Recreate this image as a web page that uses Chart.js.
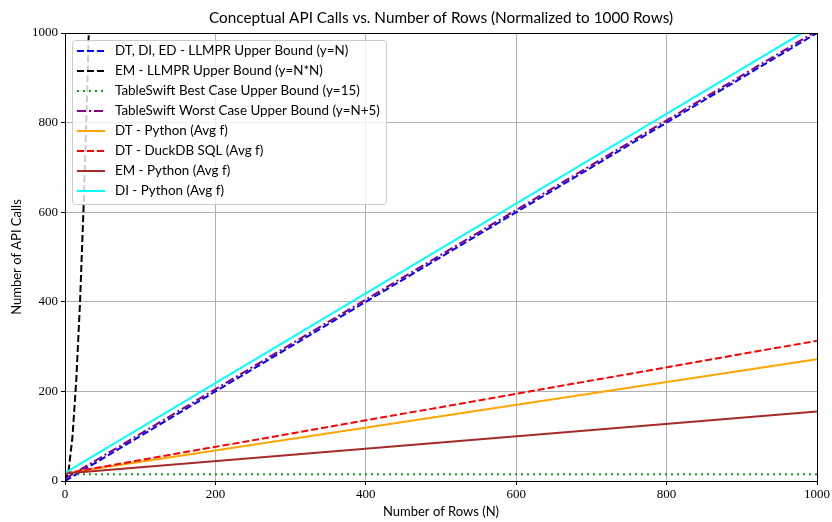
<!DOCTYPE html>
<html><head><meta charset="utf-8">
<script src="https://cdn.jsdelivr.net/npm/chart.js@4"></script>
<style>html,body{margin:0;padding:0;background:#fff}#wrap{width:832px;height:522px;position:relative}</style>
</head><body><div id="wrap"><canvas id="c" width="832" height="522"></canvas></div>
<script>
// ---- data ----
const titleText = "Conceptual API Calls vs. Number of Rows (Normalized to 1000 Rows)";
const xLabel = "Number of Rows (N)";
const yLabel = "Number of API Calls";
const xTicks = [0, 200, 400, 600, 800, 1000];
const yTicks = [0, 200, 400, 600, 800, 1000];

const seriesNames = [
  "DT, DI, ED - LLMPR Upper Bound (y=N)",
  "EM - LLMPR Upper Bound (y=N*N)",
  "TableSwift Best Case Upper Bound (y=15)",
  "TableSwift Worst Case Upper Bound (y=N+5)",
  "DT - Python (Avg f)",
  "DT - DuckDB SQL (Avg f)",
  "EM - Python (Avg f)",
  "DI - Python (Avg f)"
];
const rowsLinear = [0, 1000];
const llmprN = [0, 1000];
const rowsSquare = [0, 5, 10, 15, 20, 25, 30, 32];
const llmprNN = [0, 25, 100, 225, 400, 625, 900, 1024];
const tsBest = [15, 15];
const tsWorst = [5, 1005];
const dtPython = [17, 272];
const dtDuck = [17, 313];
const emPython = [17, 155];
const diPython = [18, 1020];

const colors = ["#0000ff", "#000000", "#1a9a1a", "#800080", "#ffa500", "#ff0000", "#a52a2a", "#00ffff"];
const dashes = [[7,3], [7,3], [2,4], [9,3,2,3], [], [7,3], [], []];

function pts(xs, ys){ return xs.map((x,i)=>({x:x, y:ys[i]})); }
const seriesData = [
  pts(rowsLinear, llmprN),
  pts(rowsSquare, llmprNN),
  pts(rowsLinear, tsBest),
  pts(rowsLinear, tsWorst),
  pts(rowsLinear, dtPython),
  pts(rowsLinear, dtDuck),
  pts(rowsLinear, emPython),
  pts(rowsLinear, diPython)
];

const datasets = seriesNames.map((n,i)=>({
  label: n, data: seriesData[i], borderColor: colors[i], backgroundColor: colors[i],
  borderDash: dashes[i], borderWidth: 2, pointRadius: 0, tension: 0, fill: false,
  order: seriesNames.length - i, borderCapStyle: 'butt'
}));

const sans = "Lato, 'Open Sans', sans-serif";
const serif = "'Liberation Serif', 'DejaVu Serif', serif";

const decor = {
  id: 'decor',
  afterDatasetsDraw(chart){
    const ctx = chart.ctx, a = chart.chartArea;
    ctx.save();
    // frame
    ctx.strokeStyle = '#000'; ctx.lineWidth = 1;
    ctx.strokeRect(Math.round(a.left)+0.5, Math.round(a.top)+0.5, Math.round(a.right-a.left), Math.round(a.bottom-a.top));
    // legend
    const lx = 72, ly = 40, lw = 314, lh = 164;
    ctx.fillStyle = 'rgba(255,255,255,0.8)';
    ctx.strokeStyle = '#cccccc';
    ctx.beginPath();
    if (ctx.roundRect) ctx.roundRect(lx+0.5, ly+0.5, lw, lh, 3); else ctx.rect(lx+0.5, ly+0.5, lw, lh);
    ctx.fill(); ctx.stroke();
    ctx.font = "13.4px " + sans;
    ctx.textBaseline = 'middle'; ctx.textAlign = 'left';
    seriesNames.forEach((n,i)=>{
      const y = 51 + i*20;
      ctx.strokeStyle = colors[i]; ctx.lineWidth = 2; ctx.setLineDash(dashes[i]);
      ctx.beginPath(); ctx.moveTo(77, y); ctx.lineTo(105, y); ctx.stroke();
      ctx.setLineDash([]);
      ctx.fillStyle = '#000'; ctx.fillText(n, 115, y);
    });
    // title
    ctx.font = "15.3px " + sans; ctx.textAlign = 'center'; ctx.fillStyle = '#000';
    ctx.fillText(titleText, (a.left+a.right)/2, 18);
    // axis labels
    ctx.font = "13px " + sans;
    ctx.fillText(xLabel, (a.left+a.right)/2, 512);
    ctx.translate(17, (a.top+a.bottom)/2); ctx.rotate(-Math.PI/2);
    ctx.fillText(yLabel, 0, 0);
    ctx.restore();
  }
};

new Chart(document.getElementById('c'), {
  type: 'line',
  data: { datasets },
  plugins: [decor],
  options: {
    responsive: false, animation: false, devicePixelRatio: 1,
    layout: { padding: { left: 0, right: 14, top: 33, bottom: 0 } },
    plugins: { legend: { display: false }, title: { display: false }, tooltip: { enabled: false } },
    scales: {
      x: {
        type: 'linear', min: 0, max: 1000,
        afterBuildTicks(s){ s.ticks = xTicks.map(v=>({value:v})); },
        afterFit(s){ s.height = 41; },
        grid: { color: '#b0b0b0', lineWidth: 1, tickColor: '#000', tickLength: 4, drawTicks: true },
        border: { display: false },
        ticks: { color: '#000', font: { family: serif, size: 13 }, padding: 2, maxRotation: 0, callback: v => String(v) }
      },
      y: {
        min: 0, max: 1000,
        afterBuildTicks(s){ s.ticks = yTicks.map(v=>({value:v})); },
        afterFit(s){ s.width = 65; },
        grid: { color: '#b0b0b0', lineWidth: 1, tickColor: '#000', tickLength: 4, drawTicks: true },
        border: { display: false },
        ticks: { color: '#000', font: { family: serif, size: 13 }, padding: 3, callback: v => String(v) }
      }
    }
  }
});
</script></body></html>
